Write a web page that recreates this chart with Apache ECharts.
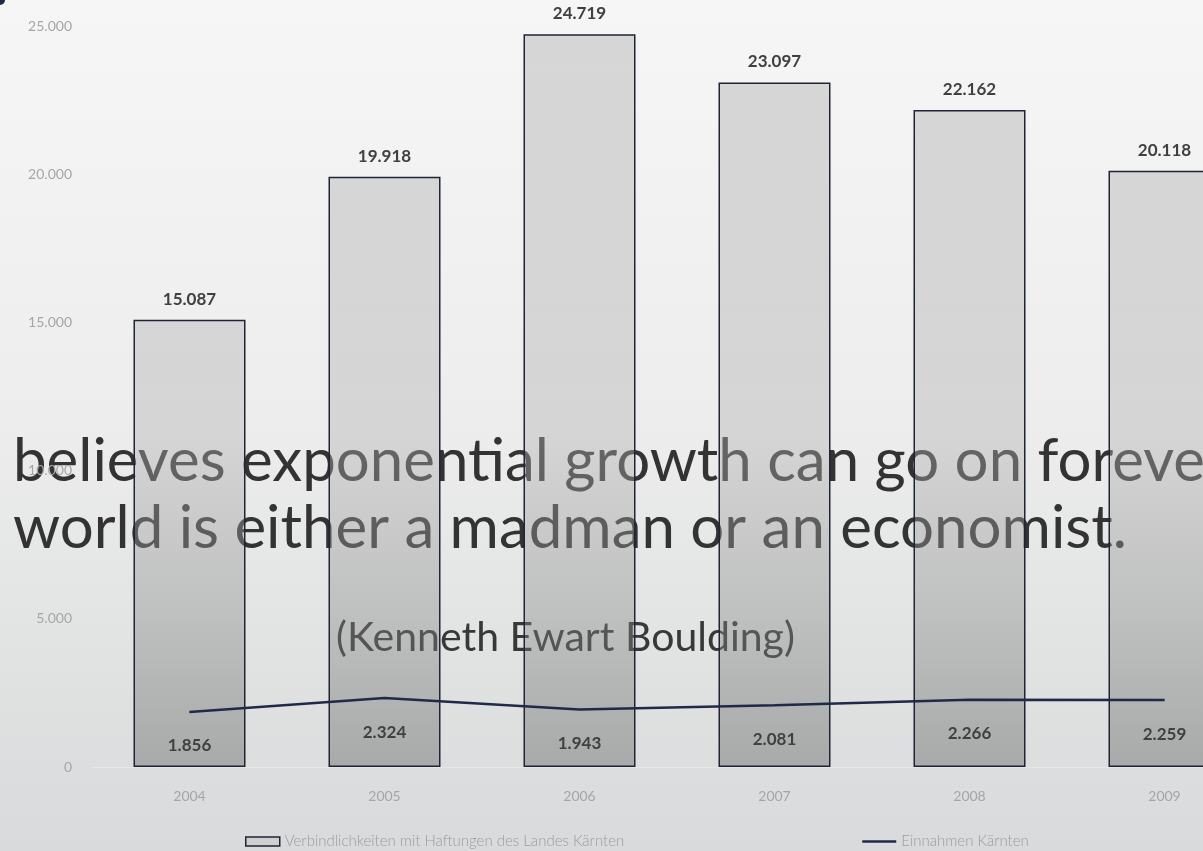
<!DOCTYPE html>
<html>
<head>
<meta charset="utf-8">
<script src="https://cdn.jsdelivr.net/npm/echarts@6/dist/echarts.min.js"></script>
<style>
html, body { margin: 0; padding: 0; }
#main { width: 1203px; height: 851px; }
</style>
</head>
<body>
<div id="main"></div>
<script>
var years = ['2004', '2005', '2006', '2007', '2008', '2009'];
var haftungen = [15087, 19918, 24719, 23097, 22162, 20118];
var einnahmen = [1856, 2324, 1943, 2081, 2266, 2259];
var yTicks = [0, 5000, 10000, 15000, 20000, 25000];
var barName = 'Verbindlichkeiten mit Haftungen des Landes Kärnten';
var lineName = 'Einnahmen Kärnten';

// 1.234 statt 1,234
function fmt(v) {
    return String(v).replace(/\B(?=(\d{3})+(?!\d))/g, '.');
}

var chart = echarts.init(document.getElementById('main'));

var option = {
    backgroundColor: {
        type: 'linear', x: 0, y: 0, x2: 0, y2: 1,
        colorStops: [
            { offset: 0, color: '#f6f6f6' },
            { offset: 0.5, color: '#ecedec' },
            { offset: 1, color: '#d8dadb' }
        ]
    },
    textStyle: { fontFamily: 'Lato' },
    // rechts abgeschnitten wie im Original
    grid: { left: 92, right: -59, top: 26, bottom: 84, containLabel: false, outerBoundsMode: 'none' },
    graphic: [
        { type: 'circle', z: 0, shape: { cx: 0, cy: 0, r: 5 }, style: { fill: '#1f2a48' } },
        {
            type: 'text', z: 0, left: 13, top: 428,
            style: {
                text: 'believes exponential growth can go on forever\nworld is either a madman or an economist.',
                font: '60px Lato', fill: '#333333', lineHeight: 67
            }
        },
        {
            type: 'text', z: 0, left: 336, top: 617,
            style: { text: '(Kenneth Ewart Boulding)', font: '41px Lato', fill: '#383838' }
        }
    ],
    legend: {
        left: 240, top: 829,
        itemWidth: 34, itemHeight: 9, itemGap: 238,
        textStyle: { color: '#9c9c9c', fontSize: 15, fontFamily: 'Lato', fontWeight: 300 },
        data: [
            { name: barName, icon: 'rect', itemStyle: { color: '#cfcfcf', borderColor: '#1f2535', borderWidth: 1.5 } },
            { name: lineName, icon: 'path://M0,0 L40,0 L40,3 L0,3 Z', itemStyle: { color: '#1f2a48' } }
        ]
    },
    xAxis: {
        type: 'category',
        data: years,
        axisTick: { show: false },
        axisLine: { lineStyle: { color: '#e6e6e6', width: 1 } },
        axisLabel: { color: '#a6a6a6', fontSize: 14, margin: 22 }
    },
    yAxis: {
        type: 'value',
        min: yTicks[0], max: yTicks[yTicks.length - 1], interval: 5000,
        splitLine: { show: false },
        axisLine: { show: false },
        axisTick: { show: false },
        axisLabel: { color: '#a6a6a6', fontSize: 14, margin: 20, formatter: fmt }
    },
    series: [
        {
            name: barName,
            type: 'bar',
            z: 2,
            barWidth: 112,
            data: haftungen,
            itemStyle: {
                color: {
                    type: 'linear', global: true, x: 0, y: 26, x2: 0, y2: 767,
                    colorStops: [
                        { offset: 0, color: 'rgba(168,168,168,0.4)' },
                        { offset: 0.55, color: 'rgba(178,178,178,0.4)' },
                        { offset: 0.8, color: 'rgba(135,135,135,0.4)' },
                        { offset: 1, color: 'rgba(90,90,90,0.4)' }
                    ]
                },
                borderColor: '#1f2535',
                borderWidth: 1.5
            },
            label: {
                show: true, position: 'top', distance: 12,
                color: '#404040', fontSize: 17, fontWeight: 'bold',
                formatter: function (p) { return fmt(p.value); }
            }
        },
        {
            name: lineName,
            type: 'line',
            z: 3,
            data: einnahmen,
            symbol: 'circle',
            symbolSize: 1,
            lineStyle: { color: '#1f2a48', width: 2.5 },
            itemStyle: { color: '#1f2a48' },
            label: {
                show: true, position: 'bottom', distance: 25,
                color: '#404040', fontSize: 17, fontWeight: 'bold',
                formatter: function (p) { return fmt(p.value); }
            }
        }
    ]
};

chart.setOption(option);
</script>
</body>
</html>
